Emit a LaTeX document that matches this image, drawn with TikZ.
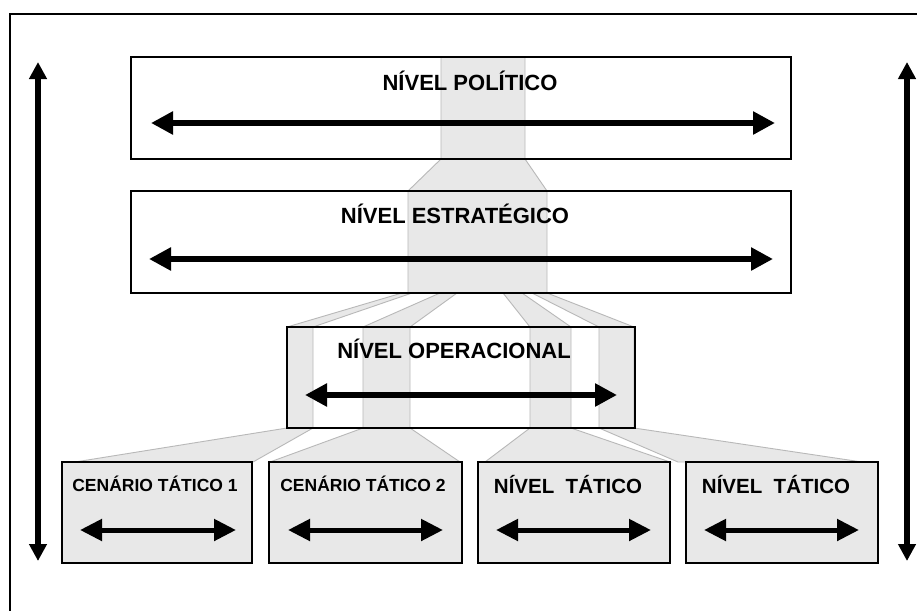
\documentclass[tikz,border=0pt]{standalone}
\usepackage{fontspec}
\setmainfont{Liberation Sans}
\usetikzlibrary{arrows.meta}
\definecolor{bandfill}{HTML}{E8E8E8}
\definecolor{bandline}{HTML}{B8B8B8}
\begin{document}
\begin{tikzpicture}[x=1pt,y=-1pt,
  band/.style={fill=bandfill,draw=bandline,line width=0.9pt},
  levelbox/.style={inner sep=0pt,outer sep=0pt},
  boxborder/.style={draw=black,line width=2.8pt},
  head/.style={font=\bfseries\fontsize{22}{26}\selectfont,inner sep=0pt,anchor=base},
  subhead/.style={font=\bfseries\fontsize{17.5}{21}\selectfont,inner sep=0pt,anchor=base},
  tathead/.style={font=\bfseries\fontsize{20.5}{24}\selectfont,inner sep=0pt,anchor=base},
  harrow/.style={line width=5.5pt,{Triangle[length=22pt,width=22pt]}-{Triangle[length=22pt,width=22pt]}},
  sarrow/.style={line width=5pt,{Triangle[length=22pt,width=21pt]}-{Triangle[length=22pt,width=21pt]}},
  varrow/.style={line width=5.5pt,{Triangle[length=17pt,width=17pt]}-{Triangle[length=17pt,width=17pt]}},
  frame/.style={draw=black,line width=1.4pt}
]
\useasboundingbox (0,0) rectangle (917,610);
\clip (0,0) rectangle (917,610);
\fill[white] (0,0) rectangle (917,610);
\draw[frame] (10,14) rectangle (940,640);

% boxes (fill)
\node[levelbox,fill=white,minimum width=660pt,minimum height=102pt] (pol) at (461,108) {};
\node[levelbox,fill=white,minimum width=660pt,minimum height=102pt] (est) at (461,242) {};
\node[levelbox,fill=white,minimum width=348pt,minimum height=101pt] (ope) at (461,377.5) {};
\node[levelbox,fill=bandfill,minimum width=190pt,minimum height=101pt] (t1) at (157,512.5) {};
\node[levelbox,fill=bandfill,minimum width=193pt,minimum height=101pt] (t2) at (365.5,512.5) {};
\node[levelbox,fill=bandfill,minimum width=192pt,minimum height=101pt] (t3) at (574,512.5) {};
\node[levelbox,fill=bandfill,minimum width=192pt,minimum height=101pt] (t4) at (782,512.5) {};

% bands
\draw[band] (441,57) -- (525,57) -- (525,159) -- (547,191) -- (547,293) -- (408,293) -- (408,191) -- (441,159) -- cycle;
\draw[band] (402,293) -- (412,293) -- (313,327) -- (313,428) -- (253,462) -- (75,462) -- (287,428) -- (287,327) -- cycle;
\draw[band] (440,293) -- (457,293) -- (410,327) -- (410,428) -- (460,462) -- (270,462) -- (363,428) -- (363,327) -- cycle;
\draw[band] (503,293) -- (522,293) -- (571,327) -- (571,428) -- (670,462) -- (485,462) -- (530,428) -- (530,327) -- cycle;
\draw[band] (532,293) -- (547,293) -- (634,327) -- (634,428) -- (862,462) -- (678,462) -- (599,428) -- (599,327) -- cycle;

% borders
\foreach \b in {pol,est,ope,t1,t2,t3,t4}
  \draw[boxborder] (\b.north west) rectangle (\b.south east);

% texts
\node[head] (polt) at (470,90) {NÍVEL POLÍTICO};
\node[head] (estt) at (455,223) {NÍVEL ESTRATÉGICO};
\node[head] (opet) at (454,358) {NÍVEL OPERACIONAL};
\node[subhead] (t1t) at (155,491) {CENÁRIO TÁTICO 1};
\node[subhead] (t2t) at (363,491) {CENÁRIO TÁTICO 2};
\node[tathead] (t3t) at (568,493) {NÍVEL\ \ TÁTICO};
\node[tathead] (t4t) at (776,493) {NÍVEL\ \ TÁTICO};

% arrow ends
\coordinate (polL) at (151,123); \coordinate (polR) at (775,123);
\coordinate (estL) at (149,259); \coordinate (estR) at (773,259);
\coordinate (opeL) at (305,395); \coordinate (opeR) at (617,395);
\coordinate (t1L) at (80,530); \coordinate (t1R) at (236,530);
\coordinate (t2L) at (288,530); \coordinate (t2R) at (443,530);
\coordinate (t3L) at (496,530); \coordinate (t3R) at (651,530);
\coordinate (t4L) at (704,530); \coordinate (t4R) at (859,530);
\coordinate (lT) at (38,62); \coordinate (lB) at (38,561);
\coordinate (rT) at (907,62); \coordinate (rB) at (907,561);

\draw[harrow] (polL) -- (polR);
\draw[harrow] (estL) -- (estR);
\draw[harrow] (opeL) -- (opeR);
\draw[sarrow] (t1L) -- (t1R);
\draw[sarrow] (t2L) -- (t2R);
\draw[sarrow] (t3L) -- (t3R);
\draw[sarrow] (t4L) -- (t4R);
\draw[varrow] (lT) -- (lB);
\draw[varrow] (rT) -- (rB);
\end{tikzpicture}
\end{document}
